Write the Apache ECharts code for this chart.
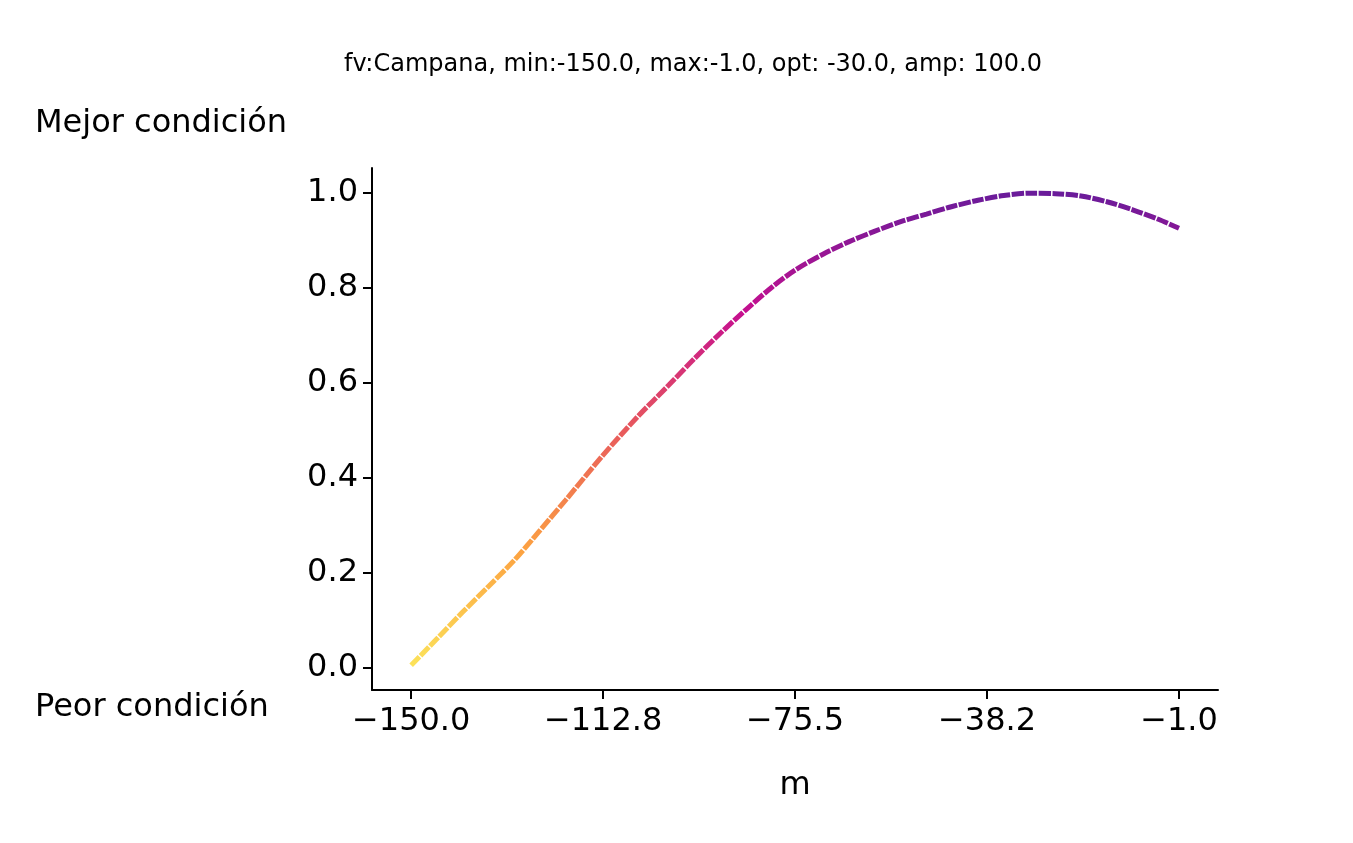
<!DOCTYPE html>
<html><head><meta charset="utf-8">
<script src="https://cdn.jsdelivr.net/npm/echarts@6/dist/echarts.min.js"></script>
<style>html,body{margin:0;background:#fff}#c{width:1353px;height:843px}</style>
</head><body><div id="c"></div>
<script>
const xs = [-150,-145,-140,-135,-130,-125,-120,-112.8,-106,-100,-95,-90,-85,-80,-75.5,-70,-65,-60,-55,-50,-45,-40,-35,-30,-25,-20,-15,-10,-5,-1];
const ys = [0.006,0.062,0.118,0.172,0.227,0.290,0.354,0.448,0.530,0.596,0.652,0.705,0.755,0.802,0.838,0.872,0.898,0.920,0.940,0.956,0.972,0.985,0.995,1.0,0.999,0.994,0.982,0.965,0.945,0.926];
const xTicks = [-150,-112.75,-75.5,-38.25,-1];
const xTickLabels = ['\u2212150.0','\u2212112.8','\u221275.5','\u221238.2','\u22121.0'];
const yTicks = [0,0.2,0.4,0.6,0.8,1.0];
const ff = 'DejaVu Sans';
const chart = echarts.init(document.getElementById('c'));
chart.setOption({
  animation:false,
  title:{text:'fv:Campana, min:-150.0, max:-1.0, opt: -30.0, amp: 100.0',left:688,textAlign:'center',top:48,
    textStyle:{fontFamily:ff,fontSize:24,fontWeight:'normal',color:'#000'}},
  grid:{left:372,right:135,top:168,bottom:153},
  visualMap:{show:false,type:'continuous',dimension:1,min:0,max:1,
    inRange:{color:['#fce45a','#fca141','#e85a5c','#c5108f','#6a1b9a']}},
  xAxis:{type:'value',min:-157.6,max:6.57,name:'m',nameLocation:'middle',nameGap:80,
    nameTextStyle:{fontFamily:ff,fontSize:32,color:'#000'},
    axisLine:{onZero:false,lineStyle:{color:'#000',width:2}},
    axisTick:{show:true,customValues:xTicks,length:9,lineStyle:{color:'#000',width:2}},
    axisLabel:{customValues:xTicks,formatter:v=>xTickLabels[xTicks.findIndex(t=>Math.abs(t-v)<0.01)],
      fontFamily:ff,fontSize:32,color:'#000',margin:16},
    splitLine:{show:false}},
  yAxis:{type:'value',min:-0.046,max:1.053,
    axisLine:{show:true,onZero:false,lineStyle:{color:'#000',width:2}},
    axisTick:{show:true,customValues:yTicks,length:9,lineStyle:{color:'#000',width:2}},
    axisLabel:{customValues:yTicks,formatter:v=>v.toFixed(1),fontFamily:ff,fontSize:32,color:'#000',margin:14},
    splitLine:{show:false}},
  graphic:[
    {type:'text',left:35,top:108,style:{text:'Mejor condición',font:'32px DejaVu Sans',fill:'#000'}},
    {type:'text',left:35,top:692,style:{text:'Peor condición',font:'32px DejaVu Sans',fill:'#000'}}
  ],
  series:[{type:'line',smooth:0.3,symbol:'none',data:xs.map((x,i)=>[x,ys[i]]),
    lineStyle:{width:5,type:[12,1.5]}}]
});
</script></body></html>
